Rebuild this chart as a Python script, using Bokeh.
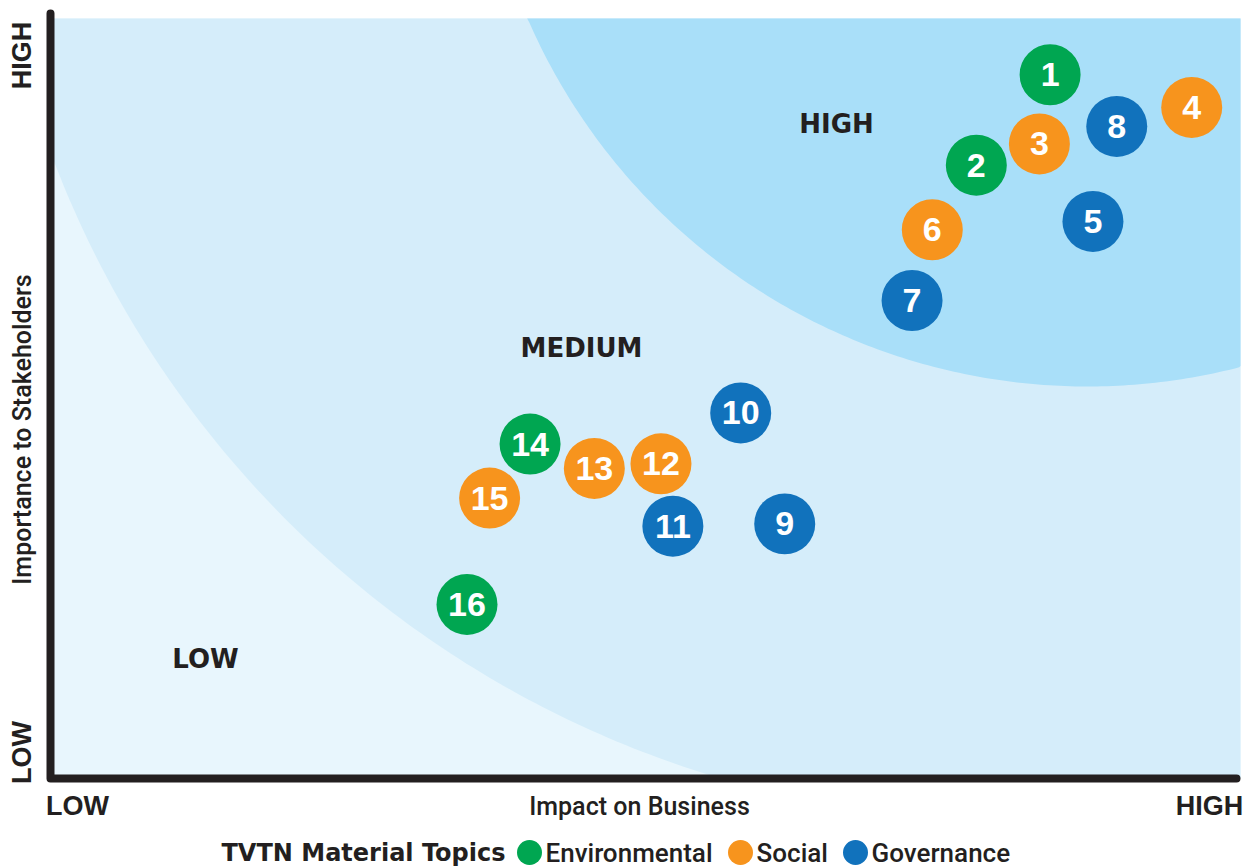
import numpy as np
from bokeh.plotting import figure
from bokeh.models import ColumnDataSource, Range1d
from bokeh.core.properties import value
from bokeh.embed import file_html
from bokeh.resources import INLINE

# ---------------- data ----------------
topic_ids = ["1", "2", "3", "4", "5", "6", "7", "8",
             "9", "10", "11", "12", "13", "14", "15", "16"]
impact_on_business = [8.40, 7.78, 8.31, 9.59, 8.76, 7.41, 7.24, 8.96,
                      6.17, 5.80, 5.23, 5.13, 4.57, 4.03, 3.69, 3.50]
importance_to_stakeholders = [9.26, 8.07, 8.35, 8.83, 7.33, 7.22, 6.29, 8.58,
                              3.35, 4.81, 3.32, 4.14, 4.08, 4.40, 3.69, 2.29]
topic_category = ["Environmental", "Environmental", "Social", "Social",
                  "Governance", "Social", "Governance", "Governance",
                  "Governance", "Governance", "Governance", "Social",
                  "Social", "Environmental", "Social", "Environmental"]
categories = ["Environmental", "Social", "Governance"]
category_colors = {"Environmental": "#00a651", "Social": "#f7941d", "Governance": "#1172bc"}
zone_names = ["HIGH", "MEDIUM", "LOW"]
axis_low, axis_high = "LOW", "HIGH"
x_title = "Impact on Business"
y_title = "Importance to Stakeholders"
legend_title = "TVTN Material Topics"

# ---------------- layout constants (canvas px) ----------------
W, H = 1251, 866
X0, X1 = 50, 1240      # data 0 / 10 on x
Y0, Y1 = 778, 18       # data 0 / 10 on y
PX_X = (X1 - X0) / 10.0
PX_Y = (Y0 - Y1) / 10.0

def cx2x(px):
    return (px - X0) / PX_X

def cy2y(py):
    return (Y0 - py) / PX_Y

INK = "#231f20"
OUTER = "#e8f6fd"
MID = "#d5edfa"
HIGHC = "#a9dff9"
SANS_MED = "Roboto Medium"
SANS_BOLD = "Liberation Sans"
HEAVY = "DejaVu Sans"

p = figure(width=W, height=H,
           x_range=Range1d(cx2x(0), cx2x(W)), y_range=Range1d(cy2y(H), cy2y(0)),
           x_axis_type=None, y_axis_type=None,
           output_backend="svg", toolbar_location=None,
           min_border=0)
p.outline_line_color = None
p.background_fill_color = "white"
p.border_fill_color = "white"

# background zones (circles in screen space)
p.quad(left=[0], right=[10], bottom=[0], top=[10], fill_color=OUTER, line_color=None)
theta = np.linspace(0, 2 * np.pi, 720)
for (ccx, ccy, rr, col) in [(1011, -205, 1025, MID), (1087, -224, 610, HIGHC)]:
    xs = np.clip(cx2x(ccx + rr * np.cos(theta)), 0, 10)
    ys = np.clip(cy2y(ccy + rr * np.sin(theta)), 0, 10)
    p.patch(list(xs), list(ys), fill_color=col, line_color=None)

# axis lines
p.line(x=[cx2x(50), cx2x(50), cx2x(1236)], y=[cy2y(13), cy2y(778), cy2y(778)],
       line_width=8, line_color=INK, line_cap="round", line_join="round")

# zone labels
p.text(x=[cx2x(836), cx2x(581), cx2x(205)],
       y=[cy2y(123), cy2y(347), cy2y(658)],
       text=zone_names, text_font=value(HEAVY), text_font_style="bold",
       text_font_size="26px", text_align="center", text_baseline="middle",
       text_color=INK)

# topic bubbles
for cat in categories:
    idx = [i for i, c in enumerate(topic_category) if c == cat]
    src = ColumnDataSource(dict(x=[impact_on_business[i] for i in idx],
                                y=[importance_to_stakeholders[i] for i in idx]))
    p.scatter("x", "y", source=src, size=61,
              fill_color=category_colors[cat], line_color=None)

p.text(x=impact_on_business, y=importance_to_stakeholders, text=topic_ids,
       text_font=value(SANS_BOLD), text_font_style="bold",
       text_font_size="34px", text_align="center", text_baseline="middle",
       text_color="white")

# axis end labels and titles
def lab(px, py, text, font, size, style="bold", angle=0.0, align="center"):
    p.text(x=[cx2x(px)], y=[cy2y(py)], text=[text], angle=angle, text_align=align,
           text_baseline="middle", text_font=value(font), text_font_size=size,
           text_font_style=style, text_color=INK)

lab(21, 55, axis_high, SANS_BOLD, "27px", angle=np.pi / 2)
lab(21, 752, axis_low, SANS_BOLD, "27px", angle=np.pi / 2)
lab(22, 429, y_title, SANS_MED, "25px", style="normal", angle=np.pi / 2)
lab(77, 805, axis_low, SANS_BOLD, "27px")
lab(1209, 805, axis_high, SANS_BOLD, "27px")
lab(639, 806, x_title, SANS_MED, "25px", style="normal")

# legend row
LEG_Y = 852
lab(505, LEG_Y, legend_title, HEAVY, "24px", align="right")
dot_px = [529, 740, 855]
p.scatter(x=[cx2x(v) for v in dot_px], y=[cy2y(LEG_Y)] * 3, size=25,
          fill_color=[category_colors[c] for c in categories], line_color=None)
for v, c in zip(dot_px, categories):
    lab(v + 16, LEG_Y, c, SANS_MED, "26px", style="normal", align="left")

open("out.html", "w").write(file_html(p, INLINE))
